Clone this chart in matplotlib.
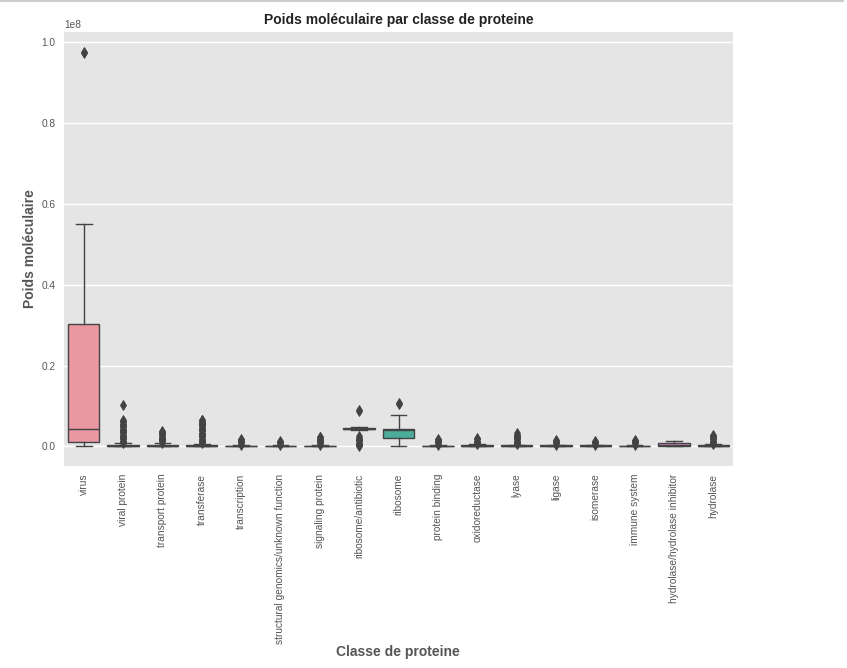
import matplotlib
matplotlib.use("Agg")
import matplotlib.pyplot as plt
from matplotlib.lines import Line2D
import seaborn as sns

# Values in millions of Da (scaled by 1e6 when drawn)
classes = [
    "virus", "viral protein", "transport protein", "transferase", "transcription",
    "structural genomics/unknown function", "signaling protein", "ribosome/antibiotic",
    "ribosome", "protein binding", "oxidoreductase", "lyase", "ligase", "isomerase",
    "immune system", "hydrolase/hydrolase inhibitor", "hydrolase",
]
whislo = [0.0, 0.0, 0.0, 0.0, 0.0, 0.0, 0.0, 4.15, 0.0, 0.0, 0.0, 0.0, 0.0, 0.0, 0.0, 0.0, 0.0]
q1 = [1.0, 0.05, 0.03, 0.05, 0.02, 0.02, 0.03, 4.25, 2.1, 0.03, 0.05, 0.05, 0.04, 0.03, 0.03, 0.1, 0.04]
med = [4.2, 0.15, 0.1, 0.12, 0.06, 0.06, 0.08, 4.35, 4.1, 0.08, 0.15, 0.15, 0.12, 0.1, 0.08, 0.4, 0.12]
q3 = [30.2, 0.3, 0.35, 0.25, 0.12, 0.12, 0.18, 4.45, 4.4, 0.18, 0.3, 0.3, 0.25, 0.2, 0.18, 0.75, 0.25]
whishi = [55.0, 0.7, 0.8, 0.6, 0.3, 0.3, 0.35, 4.65, 7.85, 0.35, 0.45, 0.4, 0.35, 0.35, 0.35, 1.42, 0.45]
fliers = [
    [97.4, 97.7],
    [0.8, 1.1, 1.4, 1.7, 2.0, 2.3, 2.6, 2.9, 3.2, 3.5, 3.8, 4.1, 4.4, 4.7, 5.0, 5.3, 5.6, 5.9, 6.2, 6.5, 10.1],
    [0.9, 1.2, 1.5, 1.8, 2.1, 2.4, 2.7, 3.0, 3.3, 3.6, 3.8],
    [0.7, 1.0, 1.3, 1.6, 1.9, 2.2, 2.5, 2.8, 3.1, 3.4, 3.7, 4.0, 4.3, 4.6, 4.9, 5.2, 5.5, 5.8, 6.1, 6.4, 6.6],
    [0.4, 0.7, 1.0, 1.3, 1.6, 1.8],
    [0.4, 0.7, 1.0, 1.3],
    [0.4, 0.7, 1.0, 1.3, 1.6, 1.9, 2.2, 2.3],
    [0.0, 0.3, 0.6, 0.9, 1.2, 1.5, 1.8, 2.1, 2.5, 8.7, 8.9],
    [10.4, 10.7],
    [0.4, 0.7, 1.0, 1.3, 1.6, 1.8],
    [0.5, 0.8, 1.1, 1.4, 1.7, 2.0],
    [0.5, 0.8, 1.1, 1.4, 1.7, 2.0, 2.3, 2.6, 2.9, 3.3],
    [0.4, 0.7, 1.0, 1.3, 1.5],
    [0.4, 0.7, 1.0, 1.3],
    [0.4, 0.7, 1.0, 1.3, 1.5],
    [],
    [0.5, 0.8, 1.1, 1.4, 1.7, 2.0, 2.3, 2.6, 2.8],
]
SCALE = 1e6

plt.style.use("ggplot")
plt.rcParams["font.family"] = ["Liberation Sans", "DejaVu Sans"]

gray = "#434343"
colors = [sns.desaturate(c, 0.75) for c in sns.husl_palette(len(classes), l=0.7)]

stats = []
for i, name in enumerate(classes):
    stats.append({
        "label": name,
        "whislo": whislo[i] * SCALE, "q1": q1[i] * SCALE, "med": med[i] * SCALE,
        "q3": q3[i] * SCALE, "whishi": whishi[i] * SCALE,
        "fliers": [v * SCALE for v in fliers[i]],
    })

fig = plt.figure(figsize=(8.47, 6.68), dpi=100)
fig.patch.set_facecolor("white")
ax = fig.add_axes([64 / 847, 1 - 466 / 668, 669 / 847, 434 / 668])

bp = ax.bxp(
    stats, positions=range(len(classes)), widths=0.8, patch_artist=True,
    boxprops=dict(edgecolor=gray, linewidth=1.0),
    medianprops=dict(color=gray, linewidth=1.0),
    whiskerprops=dict(color=gray, linewidth=1.0),
    capprops=dict(color=gray, linewidth=1.0),
    flierprops=dict(marker="d", markerfacecolor=gray, markeredgecolor=gray,
                    markersize=5, markeredgewidth=0.6, linestyle="none"),
    capwidths=0.4,
)
for patch, c in zip(bp["boxes"], colors):
    patch.set_facecolor(c)

ax.set_xlim(-0.5, len(classes) - 0.5)
ax.set_facecolor("#E5E5E5")
ax.grid(axis="x", visible=False)
ax.grid(axis="y", color="white", linewidth=1.0)
ax.set_axisbelow(True)
for s in ax.spines.values():
    s.set_visible(False)

ax.set_xticks(range(len(classes)))
ax.set_xticklabels(classes, rotation=90)
ax.tick_params(axis="both", length=0, labelsize=7.25, colors="#555555")
ax.tick_params(axis="x", pad=5.5)
ax.tick_params(axis="y", pad=6)
ax.yaxis.get_offset_text().set_fontsize(7.25)
ax.yaxis.get_offset_text().set_color("#555555")

ax.set_title("Poids moléculaire par classe de proteine", fontsize=10,
             fontweight="bold", color="#222222", pad=6)
fig.text(30 / 847, 1 - 249 / 668, "Poids moléculaire", rotation=90, fontsize=10,
         fontweight="bold", color="#555555", ha="center", va="center")
fig.text(398 / 847, 1 - 652 / 668, "Classe de proteine", fontsize=10,
         fontweight="bold", color="#555555", ha="center", va="center")

fig.add_artist(Line2D([0, 843 / 847], [1 - 1 / 668, 1 - 1 / 668], color="#cccccc", linewidth=1.5))

fig.savefig("out.png", dpi=100, facecolor="white")
